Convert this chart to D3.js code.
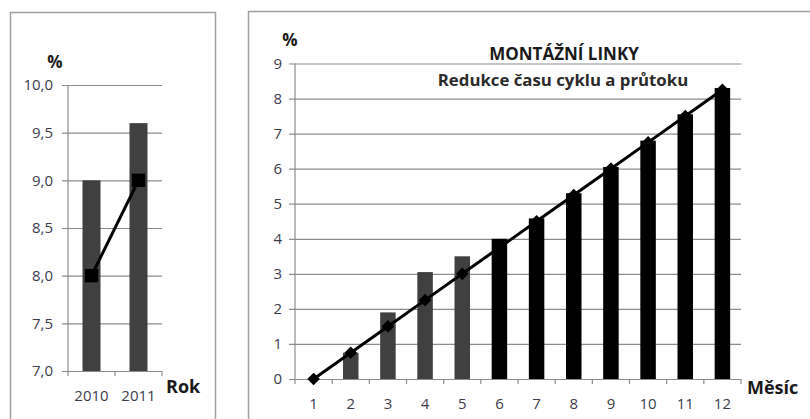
<!DOCTYPE html>
<html>
<head>
<meta charset="utf-8">
<script src="https://cdn.jsdelivr.net/npm/d3@7"></script>
<style>
  body { margin: 0; background: #fff; }
  svg { display: block; font-family: "Open Sans", Lato, sans-serif; }
</style>
</head>
<body>
<div id="chart"></div>
<script>
// data
var years = ["2010", "2011"];
var yearBars = [9.0, 9.6];
var yearLine = [8.0, 9.0];
var yearTicks = [7.0, 7.5, 8.0, 8.5, 9.0, 9.5, 10.0];

var months = ["1", "2", "3", "4", "5", "6", "7", "8", "9", "10", "11", "12"];
var monthBars = [0, 0.75, 1.9, 3.05, 3.5, 4.0, 4.58, 5.3, 6.05, 6.8, 7.55, 8.3];
var monthLine = [0, 0.75, 1.5, 2.25, 3.0, 3.75, 4.5, 5.25, 6.0, 6.75, 7.5, 8.25];
var monthTicks = [0, 1, 2, 3, 4, 5, 6, 7, 8, 9];

var W = 810, H = 419;
var gridColor = "#8c8c8c";
var labelColor = "#3c3c4c";

var svg = d3.select("#chart").append("svg")
    .attr("width", W)
    .attr("height", H);

// panel frames
svg.append("rect")
    .attr("x", 10.5).attr("y", 12.5)
    .attr("width", 205).attr("height", 420)
    .attr("fill", "none").attr("stroke", "#a0a0a0").attr("stroke-width", 1.5);
svg.append("rect")
    .attr("x", 248.5).attr("y", 11.5)
    .attr("width", 600).attr("height", 420)
    .attr("fill", "none").attr("stroke", "#a0a0a0").attr("stroke-width", 1.5);

function drawPanel(opt) {
    var x = d3.scaleBand().domain(opt.cats).range([opt.x0, opt.x1]);
    var y = d3.scaleLinear().domain(opt.domain).range([opt.y0, opt.y1]);
    var g = svg.append("g");

    // horizontal gridlines with left tick stubs
    var yAxis = d3.axisLeft(y)
        .tickValues(opt.ticks)
        .tickSize(-(opt.x1 - opt.x0))
        .tickPadding(opt.tickPad)
        .tickFormat(opt.fmt);
    var ya = g.append("g")
        .attr("transform", "translate(" + opt.x0 + ",0)")
        .call(yAxis);
    ya.select(".domain").remove();
    ya.selectAll(".tick line")
        .attr("x1", -6)
        .attr("stroke", gridColor)
        .attr("stroke-width", 1.2);
    ya.selectAll(".tick text")
        .attr("font-family", "'Open Sans', sans-serif")
        .attr("font-size", 15)
        .attr("fill", labelColor);

    // y axis line
    g.append("line")
        .attr("x1", opt.x0).attr("x2", opt.x0)
        .attr("y1", y(opt.domain[1])).attr("y2", y(opt.domain[0]))
        .attr("stroke", gridColor).attr("stroke-width", 1.2);

    // x ticks at category boundaries
    var bounds = opt.cats.map(function (c) { return x(c); }).concat([opt.x1]);
    g.selectAll(".xt").data(bounds).enter().append("line")
        .attr("x1", function (d) { return d; })
        .attr("x2", function (d) { return d; })
        .attr("y1", opt.y0).attr("y2", opt.y0 + 5)
        .attr("stroke", gridColor).attr("stroke-width", 1.2);

    g.selectAll(".xl").data(opt.cats).enter().append("text")
        .attr("x", function (d) { return x(d) + x.bandwidth() / 2; })
        .attr("y", opt.labelY)
        .attr("text-anchor", "middle")
        .attr("font-size", 15)
        .attr("fill", labelColor)
        .text(function (d) { return d; });

    // bars
    var bw = opt.barWidth;
    g.selectAll(".bar").data(opt.bars).enter().append("rect")
        .attr("x", function (d, i) { return x(opt.cats[i]) + x.bandwidth() / 2 - bw / 2; })
        .attr("y", function (d) { return y(Math.max(d, opt.domain[0])); })
        .attr("width", bw)
        .attr("height", function (d) { return opt.y0 - y(Math.max(d, opt.domain[0])); })
        .attr("fill", function (d, i) { return opt.barColor(i); });

    // line
    var line = d3.line()
        .x(function (d, i) { return x(opt.cats[i]) + x.bandwidth() / 2; })
        .y(function (d) { return y(d); });
    g.append("path")
        .datum(opt.line)
        .attr("d", line)
        .attr("fill", "none")
        .attr("stroke", "#000")
        .attr("stroke-width", 3);

    g.selectAll(".mk").data(opt.line).enter().append("path")
        .attr("transform", function (d, i) {
            return "translate(" + (x(opt.cats[i]) + x.bandwidth() / 2) + "," + y(d) + ") rotate(" + opt.markerRot + ")";
        })
        .attr("d", d3.symbol().type(d3.symbolSquare).size(opt.markerSize))
        .attr("fill", "#000");

    // axis titles
    g.append("text")
        .attr("x", opt.pctX).attr("y", opt.pctY)
        .attr("text-anchor", "middle")
        .attr("font-size", 17).attr("font-weight", "bold")
        .attr("fill", "#1a1a1a")
        .text("%");
    g.append("text")
        .attr("x", opt.xTitleX).attr("y", opt.xTitleY)
        .attr("font-size", 18).attr("font-weight", "bold")
        .attr("fill", "#1a1a1a")
        .text(opt.xTitle);
    return g;
}

drawPanel({
    cats: years, bars: yearBars, line: yearLine, ticks: yearTicks,
    domain: [7, 10], x0: 68, x1: 162, y0: 371, y1: 85, tickPad: 15,
    fmt: function (d) { return d3.format(".1f")(d).replace(".", ","); },
    barWidth: 18, barColor: function () { return "#404040"; },
    markerRot: 0, markerSize: 180,
    labelY: 401, pctX: 55, pctY: 68,
    xTitle: "Rok", xTitleX: 166, xTitleY: 393
});

drawPanel({
    cats: months, bars: monthBars, line: monthLine, ticks: monthTicks,
    domain: [0, 9], x0: 295, x1: 741, y0: 379, y1: 63.5, tickPad: 13,
    fmt: d3.format("d"),
    barWidth: 15.5, barColor: function (i) { return i < 5 ? "#404040" : "#000"; },
    markerRot: 45, markerSize: 80,
    labelY: 409, pctX: 290, pctY: 46,
    xTitle: "M\u011bs\u00edc", xTitleX: 747, xTitleY: 394
});

// chart title
svg.append("text")
    .attr("x", 564).attr("y", 60)
    .attr("text-anchor", "middle")
    .attr("font-size", 17).attr("font-weight", "bold")
    .attr("fill", "#1a1a1a")
    .text("MONT\u00c1\u017dN\u00cd LINKY");
svg.append("text")
    .attr("x", 563).attr("y", 86)
    .attr("text-anchor", "middle")
    .attr("font-size", 16.8).attr("font-weight", "bold")
    .attr("fill", "#2a2a2a")
    .text("Redukce \u010dasu cyklu a pr\u016ftoku");
</script>
</body>
</html>
